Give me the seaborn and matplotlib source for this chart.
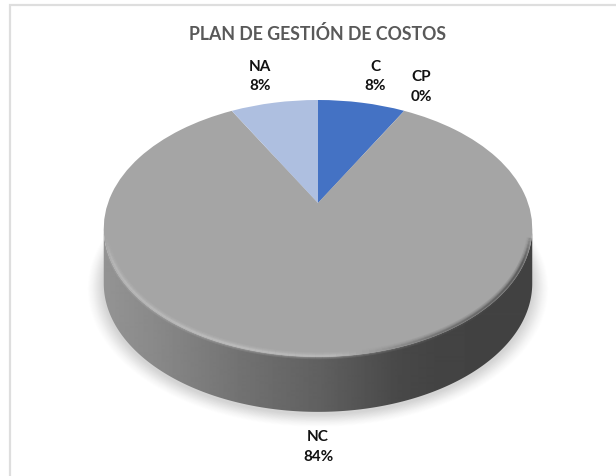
import numpy as np
import matplotlib
matplotlib.use("Agg")
import matplotlib.pyplot as plt
from matplotlib.path import Path
from matplotlib.patches import PathPatch, Polygon
from matplotlib.transforms import Transform
import seaborn as sns

TITLE = "PLAN DE GESTIÓN DE COSTOS"
categories = ["C", "CP", "NC", "NA"]
percentages = [8, 0, 84, 8]
slice_colors = ["#4472c4", "#ed7d31", "#a5a5a5", "#aebfe0"]


class TiltedDisc(Transform):
    """Perspective view of the unit disc, in figure pixels (y grows downward)."""
    input_dims = output_dims = 2
    has_inverse = False

    def __init__(self, cx=318.0, cy=204.0, wx=210.0, wy=123.4, p=0.198, drop=0.0):
        super().__init__()
        self.cx, self.cy, self.wx, self.wy, self.p, self.drop = cx, cy, wx, wy, p, drop

    def transform_non_affine(self, values):
        v = np.asarray(values, dtype=float)
        w = 1 + self.p * v[:, 1]
        return np.column_stack((self.cx + self.wx * v[:, 0] / w,
                                self.cy + self.drop - self.wy * v[:, 1] / w))


sns.set_theme(style="white")
plt.rcParams["font.family"] = ["Lato", "DejaVu Sans"]

fig, ax = plt.subplots(figsize=(6.16, 4.77), dpi=100)
fig.subplots_adjust(0, 0, 1, 1)

wedges, _ = ax.pie(percentages, colors=sns.color_palette(slice_colors), startangle=90,
                   counterclock=False, wedgeprops={"linewidth": 0})
ax.set_aspect("auto")
ax.axis("off")

top_face = TiltedDisc()
for w in wedges:
    w.set_transform(top_face + ax.transData)
    w.set_zorder(5)

# outline of the disc at the top and bottom of its thickness
theta = np.linspace(0, 2 * np.pi, 721)
circle = np.column_stack((np.cos(theta), np.sin(theta)))
rim = top_face.transform_non_affine(circle)
rim_low = TiltedDisc(drop=55).transform_non_affine(circle)

# soft ground shadow under the wall
centre = np.array([318, 240])
for grow, alpha in zip(np.linspace(16, 1, 16), np.linspace(0.012, 0.03, 16)):
    ax.add_patch(Polygon(centre + (rim_low - centre) * (1 + grow / 215) + [0, 2], closed=True,
                         fc="#808080", ec="none", alpha=alpha, zorder=1))

# side wall, shaded from left to right
i_left = np.argmin(rim[:, 0])
i_right = np.argmax(rim[:, 0])
idx = np.arange(i_left, i_right + 1)
wall_xy = np.vstack((rim[idx], rim_low[idx][::-1]))
wall_path = Path(np.vstack((wall_xy, wall_xy[0])), closed=True)

shade_x = [103, 160, 240, 320, 400, 440, 533]
shade_v = [0x94, 0x88, 0x72, 0x60, 0x48, 0x43, 0x42]
xs = np.arange(95, 541)
band = np.interp(xs, shade_x, shade_v)[None, :] / 255.0
im = ax.imshow(band, cmap="gray", vmin=0, vmax=1, extent=(95, 541, 480, 0),
               aspect="auto", zorder=2, interpolation="bilinear")
clip = PathPatch(wall_path, transform=ax.transData, fc="none", ec="none")
ax.add_patch(clip)
im.set_clip_path(clip)
ax.set_xlim(0, 616)
ax.set_ylim(477, 0)

# soft bevel just inside the front edge of the top face
inner = centre + (rim - centre) * (1 - 2.0 / 215)
front = idx[inner[idx][:, 1] > 236]
xr = inner[front]
edge_tone = np.interp(xr[:, 0], [103, 230, 330, 430, 533], [0.74, 0.76, 0.74, 0.42, 0.27])
fade = np.clip((xr[:, 1] - 236) / 30, 0, 1)
for lw, al in [(5, 0.16), (3.4, 0.22), (2, 0.35), (1, 0.5)]:
    for i in range(0, len(xr) - 3, 3):
        ax.plot(xr[i:i + 4, 0], xr[i:i + 4, 1], color=str(edge_tone[i]), lw=lw,
                alpha=al * fade[i], solid_capstyle="butt", zorder=6)

# chart frame, open on the right and at the bottom
ax.plot([9.5, 9.5, 616], [477, 6, 6], color="#dedede", lw=1.6, zorder=1,
        solid_joinstyle="miter")

ax.text(317.5, 34, TITLE, ha="center", va="center", fontsize=12.8, fontweight="bold",
        color="#595959", zorder=8)

label_at = {"C": (375, 76.5), "CP": (421, 87), "NC": (318, 447), "NA": (260, 76.5)}
for name, pct in zip(categories, percentages):
    x, y = label_at[name]
    ax.text(x, y, f"{name}\n{pct}%", ha="center", va="center", fontsize=11,
            fontweight="bold", color="#111111", linespacing=1.5, zorder=8)

fig.savefig("out.png", dpi=100, facecolor="white")
